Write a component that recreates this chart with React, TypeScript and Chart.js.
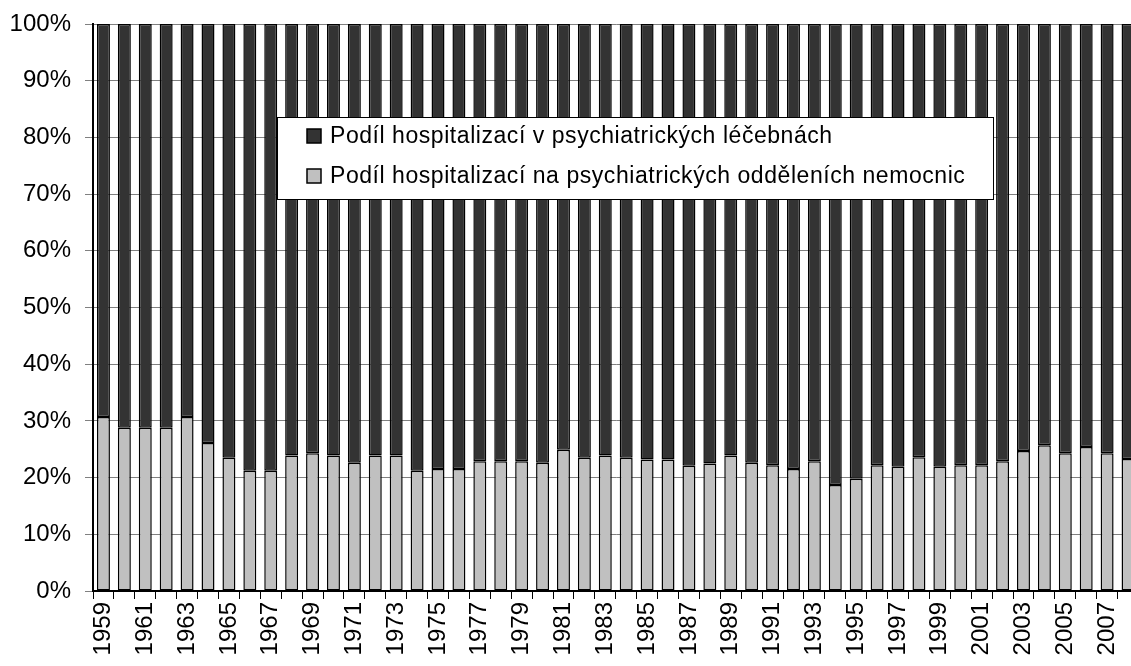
import React, { useEffect, useRef } from "react";
import { Chart, registerables } from "chart.js";

Chart.register(...registerables);

const years: string[] = [
  "1959","1960","1961","1962","1963","1964","1965","1966","1967","1968",
  "1969","1970","1971","1972","1973","1974","1975","1976","1977","1978",
  "1979","1980","1981","1982","1983","1984","1985","1986","1987","1988",
  "1989","1990","1991","1992","1993","1994","1995","1996","1997","1998",
  "1999","2000","2001","2002","2003","2004","2005","2006","2007","2008",
];

const hospitalDepts: number[] = [
  30.7, 28.8, 28.8, 28.8, 30.7, 26.1, 23.5, 21.2, 21.2, 23.9,
  24.3, 23.9, 22.6, 23.9, 23.9, 21.2, 21.5, 21.5, 22.9, 22.9,
  22.9, 22.6, 24.9, 23.5, 23.9, 23.5, 23.2, 23.2, 22.1, 22.5,
  23.9, 22.6, 22.2, 21.5, 22.9, 18.7, 19.8, 22.2, 21.9, 23.6,
  21.9, 22.2, 22.2, 22.9, 24.7, 25.7, 24.3, 25.4, 24.3, 23.3,
];

const psychHospitals: number[] = [
  69.3, 71.2, 71.2, 71.2, 69.3, 73.9, 76.5, 78.8, 78.8, 76.1,
  75.7, 76.1, 77.4, 76.1, 76.1, 78.8, 78.5, 78.5, 77.1, 77.1,
  77.1, 77.4, 75.1, 76.5, 76.1, 76.5, 76.8, 76.8, 77.9, 77.5,
  76.1, 77.4, 77.8, 78.5, 77.1, 81.3, 80.2, 77.8, 78.1, 76.4,
  78.1, 77.8, 77.8, 77.1, 75.3, 74.3, 75.7, 74.6, 75.7, 76.7,
];

const legendLabels: string[] = [
  "Podíl hospitalizací v psychiatrických léčebnách",
  "Podíl hospitalizací na psychiatrických odděleních nemocnic",
];

const FONT = "'Liberation Sans', Arial, sans-serif";
const LIGHT = "#c0c0c0";
const DARK = "#333333";

const legendPlugin = {
  id: "boxLegend",
  afterDraw(chart: any) {
    const ctx = chart.ctx as CanvasRenderingContext2D;
    const x = 277.5, y = 117.5, w = 716, h = 82;
    ctx.save();
    ctx.fillStyle = "#ffffff";
    ctx.fillRect(x, y, w, h);
    ctx.strokeStyle = "#000000";
    ctx.lineWidth = 1;
    ctx.strokeRect(x, y, w, h);
    const rows = [
      { label: legendLabels[0], color: DARK, cy: 136 },
      { label: legendLabels[1], color: LIGHT, cy: 176 },
    ];
    ctx.font = `23px ${FONT}`;
    (ctx as any).letterSpacing = "0.55px";
    ctx.textBaseline = "middle";
    ctx.textAlign = "left";
    rows.forEach((r) => {
      ctx.fillStyle = r.color;
      ctx.fillRect(307, r.cy - 7, 14, 14);
      ctx.lineWidth = 1.5;
      ctx.strokeStyle = "#000";
      ctx.strokeRect(307, r.cy - 7, 14, 14);
      ctx.fillStyle = "#000";
      ctx.fillText(r.label, 330, r.cy + 1);
    });
    ctx.restore();
  },
};

const barStyle = {
  borderColor: "#000",
  borderWidth: 1.5,
  borderSkipped: false as const,
  barPercentage: 0.62,
  categoryPercentage: 1,
};

export default function App() {
  const ref = useRef<HTMLCanvasElement | null>(null);

  useEffect(() => {
    if (!ref.current) return;
    const chart = new Chart(ref.current, {
      type: "bar",
      data: {
        labels: years,
        datasets: [
          { label: legendLabels[1], data: hospitalDepts, backgroundColor: LIGHT, ...barStyle },
          { label: legendLabels[0], data: psychHospitals, backgroundColor: DARK, ...barStyle },
        ],
      },
      options: {
        responsive: false,
        animation: false,
        layout: { padding: { top: 24, right: 17, left: 0, bottom: 0 } },
        plugins: {
          legend: { display: false },
          tooltip: { enabled: false },
        },
        scales: {
          x: {
            stacked: true,
            offset: true,
            grid: {
              display: true,
              drawOnChartArea: false,
              drawTicks: true,
              tickLength: 8,
              color: "#000",
              offset: true,
            },
            border: { display: true, color: "#000", width: 2 },
            ticks: {
              autoSkip: false,
              maxRotation: 90,
              minRotation: 90,
              padding: 3,
              color: "#000",
              font: { family: FONT, size: 24 },
              callback: (_v: any, i: number) => (i % 2 === 0 ? years[i] : ""),
            },
            afterFit: (s: any) => {
              s.height = 75;
            },
          },
          y: {
            stacked: true,
            min: 0,
            max: 100,
            grid: {
              color: "#808080",
              lineWidth: 1,
              tickLength: 8,
            },
            border: { display: true, color: "#000", width: 2 },
            ticks: {
              stepSize: 10,
              padding: 14,
              color: "#000",
              font: { family: FONT, size: 24 },
              callback: (v: any) => `${v}%`,
            },
            afterFit: (s: any) => {
              s.width = 93;
              s.paddingTop = 0;
              s.paddingBottom = 0;
            },
          },
        },
      },
      plugins: [legendPlugin],
    });
    return () => chart.destroy();
  }, []);

  return (
    <div style={{ position: "fixed", left: 0, top: 0, width: 1131, height: 666, overflow: "hidden", background: "#fff" }}>
      <canvas ref={ref} width={1160} height={666} style={{ width: 1160, height: 666, display: "block" }} />
    </div>
  );
}
